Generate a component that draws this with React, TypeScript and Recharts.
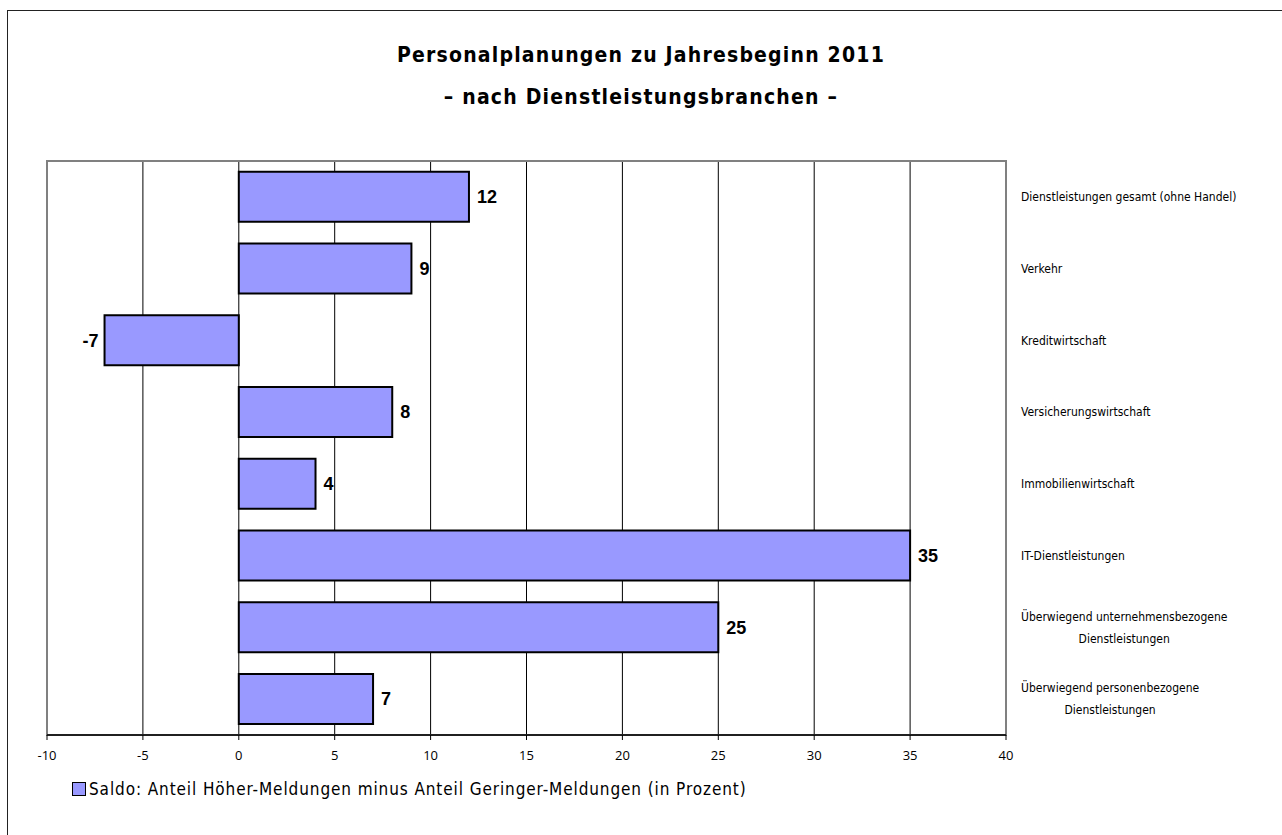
import React from 'react';
import { BarChart, Bar, XAxis, YAxis, CartesianGrid, ReferenceArea, LabelList } from 'recharts';

const categories = [
  'Dienstleistungen gesamt (ohne Handel)',
  'Verkehr',
  'Kreditwirtschaft',
  'Versicherungswirtschaft',
  'Immobilienwirtschaft',
  'IT-Dienstleistungen',
  'Überwiegend unternehmensbezogene\nDienstleistungen',
  'Überwiegend personenbezogene\nDienstleistungen',
];
const saldo = [12, 9, -7, 8, 4, 35, 25, 7];
const xTicks = [-10, -5, 0, 5, 10, 15, 20, 25, 30, 35, 40];
const titleLines = ['Personalplanungen zu Jahresbeginn 2011', '– nach Dienstleistungsbranchen –'];
const legendLabel = 'Saldo: Anteil Höher-Meldungen minus Anteil Geringer-Meldungen (in Prozent)';

const data = categories.map((name, i) => ({ name, value: saldo[i] }));

const FONT = '"DejaVu Sans Condensed", "Liberation Sans Narrow", "DejaVu Sans", sans-serif';
const TICK_FONT_SIZE = 12;

let ctx: CanvasRenderingContext2D | null = null;
function measure(text: string): number {
  if (!ctx) {
    const c = document.createElement('canvas');
    ctx = c.getContext('2d');
  }
  if (!ctx) return text.length * 6;
  ctx.font = `${TICK_FONT_SIZE}px ${FONT}`;
  return ctx.measureText(text).width;
}

const CategoryTick = (props: any) => {
  const { x, y, payload } = props;
  const lines = String(payload.value).split('\n');
  const startX = x + 7;
  if (lines.length === 1) {
    return (
      <text x={startX} y={y} dy="0.35em" textAnchor="start" fontSize={TICK_FONT_SIZE} fontFamily={FONT} fill="#000">
        {lines[0]}
      </text>
    );
  }
  const w = measure(lines[0]);
  const cx = startX + w / 2;
  const lh = 22;
  const top = y - ((lines.length - 1) * lh) / 2;
  return (
    <text textAnchor="middle" fontSize={TICK_FONT_SIZE} fontFamily={FONT} fill="#000">
      {lines.map((l, i) => (
        <tspan key={i} x={cx} y={top + i * lh} dy="0.35em">
          {l}
        </tspan>
      ))}
    </text>
  );
};

const NumberTick = (props: any) => {
  const { x, y, payload } = props;
  return (
    <text x={x} y={y} dy="0.75em" textAnchor="middle" fontSize={13} fontFamily='"Open Sans", "Noto Sans", sans-serif' fill="#000">
      {payload.value}
    </text>
  );
};

const ValueLabel = (props: any) => {
  const { x, y, width, height, value } = props;
  const left = Math.min(x, x + width);
  const right = Math.max(x, x + width);
  const neg = value < 0;
  return (
    <text
      x={neg ? left - 6 : right + 8}
      y={y + height / 2}
      dy="0.36em"
      textAnchor={neg ? 'end' : 'start'}
      fontSize={18}
      fontWeight="bold"
      fontFamily='"Liberation Sans", Arial, sans-serif'
      fill="#000"
    >
      {value}
    </text>
  );
};

export default function App() {
  return (
    <div style={{ position: 'absolute', left: 0, top: 0, width: 1282, height: 835, background: '#fff', overflow: 'hidden', fontFamily: FONT }}>
      <div style={{ position: 'absolute', left: 7, top: 10, width: 1300, height: 900, border: '1px solid #222', boxSizing: 'border-box' }} />
      <div style={{ position: 'absolute', left: 0, top: 34, width: 1282, textAlign: 'center', fontSize: 21, fontWeight: 'bold', lineHeight: '42px', letterSpacing: 1.2, color: '#000' }}>
        {titleLines.map((t, i) => (
          <div key={i}>{t}</div>
        ))}
      </div>
      <div style={{ position: 'absolute', left: 0, top: 0 }}>
        <BarChart
          width={1282}
          height={835}
          data={data}
          layout="vertical"
          margin={{ top: 161, right: 10, bottom: 70, left: 47 }}
          barCategoryGap="15%"
        >
          <CartesianGrid horizontal={false} vertical={true} stroke="#000" strokeWidth={1} />
          <ReferenceArea x1={-10} x2={40} fill="none" stroke="#808080" strokeWidth={2} />
          <XAxis
            type="number"
            domain={[-10, 40]}
            ticks={xTicks}
            interval={0}
            allowDataOverflow
            height={30}
            axisLine={{ stroke: '#000', strokeWidth: 1.5 }}
            tickLine={{ stroke: '#000' }}
            tickSize={5}
            tickMargin={10}
            tick={<NumberTick />}
          />
          <YAxis
            type="category"
            dataKey="name"
            orientation="right"
            width={266}
            axisLine={false}
            tickLine={false}
            interval={0}
            tick={<CategoryTick />}
          />
          <Bar dataKey="value" fill="#9999FF" stroke="#000" strokeWidth={2} isAnimationActive={false}>
            <LabelList dataKey="value" content={<ValueLabel />} />
          </Bar>
        </BarChart>
      </div>
      <div style={{ position: 'absolute', left: 72, top: 779, display: 'flex', alignItems: 'center', fontSize: 17, letterSpacing: 0.9, color: '#000', whiteSpace: 'nowrap' }}>
        <span style={{ display: 'inline-block', width: 12, height: 12, background: '#9999FF', border: '1.5px solid #000', marginRight: 3 }} />
        <span>{legendLabel}</span>
      </div>
    </div>
  );
}
